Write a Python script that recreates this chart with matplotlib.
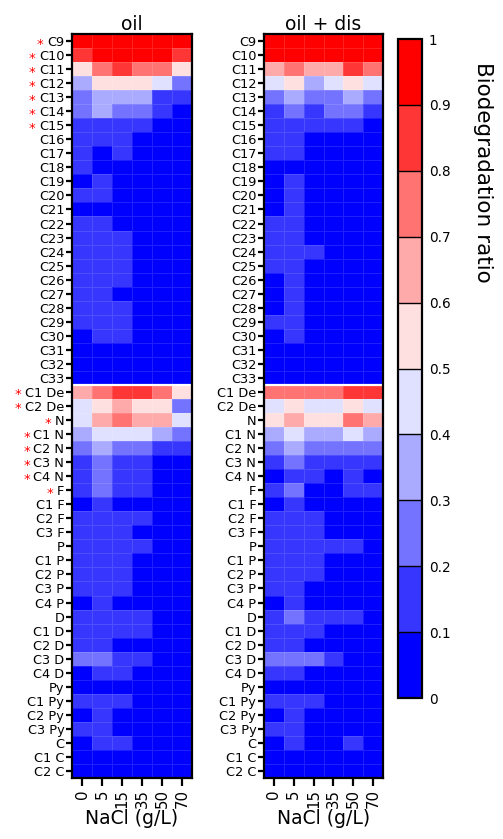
import numpy as np
import matplotlib
matplotlib.use("Agg")
import matplotlib.pyplot as plt
from matplotlib.colors import ListedColormap, BoundaryNorm

plt.rcParams['font.family'] = ['DejaVu Sans']

compounds = ["C9", "C10", "C11", "C12", "C13", "C14", "C15", "C16", "C17", "C18",
             "C19", "C20", "C21", "C22", "C23", "C24", "C25", "C26", "C27", "C28",
             "C29", "C30", "C31", "C32", "C33",
             "C1 De", "C2 De", "N", "C1 N", "C2 N", "C3 N", "C4 N", "F", "C1 F",
             "C2 F", "C3 F", "P", "C1 P", "C2 P", "C3 P", "C4 P", "D", "C1 D",
             "C2 D", "C3 D", "C4 D", "Py", "C1 Py", "C2 Py", "C3 Py", "C", "C1 C", "C2 C"]
starred = ["C9", "C10", "C11", "C12", "C13", "C14", "C15", "C1 De", "C2 De", "N",
           "C1 N", "C2 N", "C3 N", "C4 N", "F"]
nacl = ["0", "5", "15", "35", "50", "70"]

oil = [
    [.95, .95, .95, .95, .95, .95],  # C9
    [.85, .95, .95, .95, .95, .85],  # C10
    [.55, .75, .85, .75, .75, .55],  # C11
    [.35, .55, .55, .55, .45, .25],  # C12
    [.25, .35, .35, .35, .15, .15],  # C13
    [.25, .35, .25, .25, .15, .05],  # C14
    [.15, .15, .15, .15, .05, .05],  # C15
    [.15, .15, .15, .05, .05, .05],  # C16
    [.15, .05, .15, .05, .05, .05],  # C17
    [.15, .05, .05, .05, .05, .05],  # C18
    [.05, .15, .05, .05, .05, .05],  # C19
    [.15, .15, .05, .05, .05, .05],  # C20
    [.05, .05, .05, .05, .05, .05],  # C21
    [.15, .15, .05, .05, .05, .05],  # C22
    [.15, .15, .15, .05, .05, .05],  # C23
    [.15, .15, .15, .05, .05, .05],  # C24
    [.15, .15, .15, .05, .05, .05],  # C25
    [.15, .15, .15, .05, .05, .05],  # C26
    [.15, .15, .05, .05, .05, .05],  # C27
    [.15, .15, .15, .05, .05, .05],  # C28
    [.15, .15, .15, .05, .05, .05],  # C29
    [.05, .15, .15, .05, .05, .05],  # C30
    [.05, .05, .05, .05, .05, .05],  # C31
    [.05, .05, .05, .05, .05, .05],  # C32
    [.05, .05, .05, .05, .05, .05],  # C33
    [.65, .75, .85, .85, .75, .55],  # C1 De
    [.45, .55, .65, .55, .55, .25],  # C2 De
    [.45, .65, .75, .65, .65, .45],  # N
    [.35, .45, .45, .45, .35, .25],  # C1 N
    [.25, .35, .25, .25, .15, .15],  # C2 N
    [.15, .25, .15, .15, .05, .05],  # C3 N
    [.15, .25, .15, .15, .05, .05],  # C4 N
    [.15, .25, .15, .15, .05, .05],  # F
    [.05, .15, .05, .05, .05, .05],  # C1 F
    [.15, .15, .15, .15, .05, .05],  # C2 F
    [.15, .15, .15, .05, .05, .05],  # C3 F
    [.15, .15, .15, .15, .05, .05],  # P
    [.15, .15, .15, .05, .05, .05],  # C1 P
    [.15, .15, .15, .05, .05, .05],  # C2 P
    [.15, .15, .15, .05, .05, .05],  # C3 P
    [.05, .15, .05, .05, .05, .05],  # C4 P
    [.15, .15, .15, .15, .05, .05],  # D
    [.15, .15, .15, .15, .05, .05],  # C1 D
    [.15, .15, .05, .05, .05, .05],  # C2 D
    [.25, .25, .15, .15, .05, .05],  # C3 D
    [.05, .15, .15, .05, .05, .05],  # C4 D
    [.05, .05, .05, .05, .05, .05],  # Py
    [.15, .15, .15, .05, .05, .05],  # C1 Py
    [.05, .15, .05, .05, .05, .05],  # C2 Py
    [.15, .15, .05, .05, .05, .05],  # C3 Py
    [.05, .15, .15, .05, .05, .05],  # C
    [.05, .05, .05, .05, .05, .05],  # C1 C
    [.05, .05, .05, .05, .05, .05],  # C2 C
]

oil_dis = [
    [.95, .95, .95, .95, .95, .95],  # C9
    [.95, .95, .95, .95, .95, .95],  # C10
    [.65, .75, .65, .65, .85, .75],  # C11
    [.45, .55, .35, .45, .55, .45],  # C12
    [.25, .35, .25, .25, .35, .25],  # C13
    [.15, .25, .15, .25, .25, .15],  # C14
    [.15, .15, .15, .15, .15, .05],  # C15
    [.15, .15, .05, .05, .05, .05],  # C16
    [.15, .15, .05, .05, .05, .05],  # C17
    [.05, .05, .05, .05, .05, .05],  # C18
    [.05, .15, .05, .05, .05, .05],  # C19
    [.05, .15, .05, .05, .05, .05],  # C20
    [.05, .15, .05, .05, .05, .05],  # C21
    [.15, .15, .05, .05, .05, .05],  # C22
    [.15, .15, .05, .05, .05, .05],  # C23
    [.15, .15, .15, .05, .05, .05],  # C24
    [.15, .15, .05, .05, .05, .05],  # C25
    [.05, .15, .05, .05, .05, .05],  # C26
    [.05, .15, .05, .05, .05, .05],  # C27
    [.05, .15, .05, .05, .05, .05],  # C28
    [.15, .15, .05, .05, .05, .05],  # C29
    [.05, .15, .05, .05, .05, .05],  # C30
    [.05, .05, .05, .05, .05, .05],  # C31
    [.05, .05, .05, .05, .05, .05],  # C32
    [.05, .05, .05, .05, .05, .05],  # C33
    [.75, .75, .75, .75, .85, .85],  # C1 De
    [.45, .55, .45, .45, .55, .45],  # C2 De
    [.55, .65, .55, .55, .75, .65],  # N
    [.35, .45, .35, .35, .45, .35],  # C1 N
    [.25, .35, .25, .25, .25, .25],  # C2 N
    [.15, .25, .15, .15, .15, .15],  # C3 N
    [.05, .15, .15, .05, .15, .05],  # C4 N
    [.15, .25, .05, .05, .15, .15],  # F
    [.05, .15, .05, .05, .05, .05],  # C1 F
    [.15, .15, .15, .05, .05, .05],  # C2 F
    [.15, .15, .15, .05, .05, .05],  # C3 F
    [.15, .15, .15, .15, .15, .05],  # P
    [.15, .15, .15, .05, .05, .05],  # C1 P
    [.15, .15, .15, .05, .05, .05],  # C2 P
    [.15, .15, .05, .05, .05, .05],  # C3 P
    [.05, .15, .05, .05, .05, .05],  # C4 P
    [.15, .25, .15, .15, .15, .05],  # D
    [.15, .15, .15, .05, .05, .05],  # C1 D
    [.15, .15, .05, .05, .05, .05],  # C2 D
    [.25, .25, .25, .15, .05, .05],  # C3 D
    [.15, .15, .05, .05, .05, .05],  # C4 D
    [.05, .05, .05, .05, .05, .05],  # Py
    [.15, .15, .15, .05, .05, .05],  # C1 Py
    [.05, .15, .05, .05, .05, .05],  # C2 Py
    [.15, .15, .05, .05, .05, .05],  # C3 Py
    [.05, .15, .05, .05, .15, .05],  # C
    [.05, .05, .05, .05, .05, .05],  # C1 C
    [.05, .05, .05, .05, .05, .05],  # C2 C
]

level_colors = ["#0000FF", "#3636FF", "#7373FF", "#AAAAFF", "#E0E0FF",
                "#FFE0E0", "#FFAAAA", "#FF7373", "#FF3636", "#FF0000"]
cb_ticks = [0, 0.1, 0.2, 0.3, 0.4, 0.5, 0.6, 0.7, 0.8, 0.9, 1.0]
cb_ticklabels = ["0", "0.1", "0.2", "0.3", "0.4", "0.5", "0.6", "0.7", "0.8", "0.9", "1"]

cmap = ListedColormap(level_colors)
norm = BoundaryNorm(cb_ticks, cmap.N)

W, H = 503, 839
fig = plt.figure(figsize=(W / 100, H / 100), dpi=100)

def frac(x0, y0, x1, y1):
    return [x0 / W, 1 - y1 / H, (x1 - x0) / W, (y1 - y0) / H]

ax1 = fig.add_axes(frac(72, 34, 192, 778))
ax2 = fig.add_axes(frac(264, 34, 383, 778))
cax = fig.add_axes(frac(398, 39, 422, 698))

n_rows = len(compounds)
n_cols = len(nacl)
sep_index = compounds.index("C1 De")

mesh = None
for ax, data, title in [(ax1, oil, "oil"), (ax2, oil_dis, "oil + dis")]:
    arr = np.array(data)
    mesh = ax.pcolormesh(np.arange(n_cols + 1), np.arange(n_rows + 1), arr,
                         cmap=cmap, norm=norm, edgecolors=(1, 1, 1, 0.13),
                         linewidth=0.5)
    ax.set_xlim(0, n_cols)
    ax.set_ylim(n_rows, 0)
    ax.axhline(sep_index, color="white", lw=1.6)
    ax.set_xticks(np.arange(n_cols) + 0.5)
    ax.set_xticklabels(nacl, rotation=90, fontsize=10.8)
    ax.set_yticks(np.arange(n_rows) + 0.5)
    ax.set_yticklabels(compounds, fontsize=9.3)
    ax.tick_params(axis="x", direction="out", length=6, width=1.6, pad=2)
    ax.tick_params(axis="y", direction="out", length=4, width=1.6, pad=1.5)
    for sp in ax.spines.values():
        sp.set_linewidth(1.6)
    ax.set_title(title, fontsize=13.5, pad=3)
    ax.set_xlabel("NaCl (g/L)", fontsize=13.5, labelpad=1)

cb = fig.colorbar(mesh, cax=cax, ticks=cb_ticks, drawedges=True)
cb.ax.set_yticklabels(cb_ticklabels, fontsize=9.8)
cb.ax.tick_params(length=0, pad=5)
cb.outline.set_linewidth(1.6)
cb.dividers.set_linewidth(1.0)
cb.dividers.set_color("black")

fig.text(483 / W, 1 - 172 / H, "Biodegradation ratio", rotation=270,
         fontsize=15.5, ha="center", va="center")

# red stars next to significant compounds (oil panel)
fig.canvas.draw()
renderer = fig.canvas.get_renderer()
inv = fig.transFigure.inverted()
for lab in ax1.get_yticklabels():
    if lab.get_text() in starred:
        bb = lab.get_window_extent(renderer)
        xf, yf = inv.transform((bb.x0 - 3.5, (bb.y0 + bb.y1) / 2 - 1.5))
        fig.text(xf, yf, "*", color="red", fontsize=9.5, ha="right", va="center")

fig.savefig("out.png", dpi=100)
